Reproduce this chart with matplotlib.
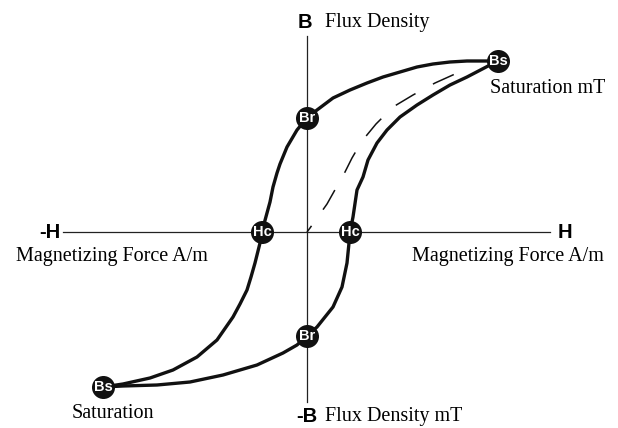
import matplotlib
matplotlib.use("Agg")
import matplotlib.pyplot as plt

# Descending branch (from +Bs through +Br, -Hc to -Bs)
upper_H = [191, 176, 160, 143, 126, 110, 93, 76, 60, 43, 26, 10, 0, -10, -20, -27, -30, -34, -37,
           -40, -43, -45, -47, -52, -56, -60, -67, -74, -90, -110, -134, -157, -184, -204]
upper_B = [171, 171, 171, 170, 168, 165, 160, 155, 149, 142, 134, 122, 114, 102, 85, 68, 59, 45, 30,
           19, 8, 0, -11, -31, -45, -58, -72, -85, -108, -125, -138, -146, -152, -155]

# Ascending branch (from -Bs through -Br, +Hc to +Bs)
lower_H = [-204, -184, -150, -117, -84, -50, -24, -10, 0, 10, 26, 35, 40, 42, 43, 46, 50, 56, 61,
           70, 80, 93, 110, 126, 143, 160, 183, 191]
lower_B = [-155, -154, -153, -150, -143, -133, -121, -113, -104, -95, -75, -55, -31, -11, 0, 15, 42, 55, 72,
           89, 102, 115, 127, 137, 147, 155, 167, 171]

# Initial magnetization curve (dashed)
init_H = [0, 3, 20, 38, 45, 55, 69, 86, 106, 128, 148, 153]
init_B = [0, 4, 28, 60, 74, 91, 108, 125, 137, 149, 158, 160]

# Marked points
pt_names = ["Bs", "Br", "Hc", "Hc", "Br", "Bs"]
pt_H = [191, 0, -45, 43, 0, -204]
pt_B = [171, 114, 0, 0, -104, -155]

SERIF = ["Liberation Serif", "DejaVu Serif"]
SANS = ["Liberation Sans", "DejaVu Sans"]

fig = plt.figure(figsize=(6.18, 4.28), dpi=100)
ax = fig.add_axes([0, 0, 1, 1])
ax.set_xlim(-307, 311)
ax.set_ylim(-196, 232)
ax.axis("off")

# axes lines
ax.plot([-244, 243], [0, 0], color="#222222", lw=0.9, zorder=1)
ax.plot([0, 0], [-170, 196], color="#222222", lw=0.9, zorder=1)

# loop
kw = dict(color="#111111", lw=2.4, solid_capstyle="round", solid_joinstyle="round", zorder=2)
ax.plot(upper_H, upper_B, **kw)
ax.plot(lower_H, lower_B, **kw)
ax.plot(init_H, init_B, color="#111111", lw=1.1, linestyle=(10, (15, 13)), zorder=2)

# markers
ax.scatter(pt_H, pt_B, s=275, color="#111111", zorder=3, linewidths=0)
for n, h, b in zip(pt_names, pt_H, pt_B):
    ax.text(h, b, n, color="white", fontsize=10.5, fontweight="bold", family=SANS,
            ha="center", va="center", zorder=4)

# labels
FS = 14.5
ax.text(5, 210, "B", fontsize=FS, fontweight="bold", family=SANS, ha="right", va="center")
ax.text(18, 210, "Flux Density", fontsize=FS, family=SERIF, ha="left", va="center")
ax.text(183, 144, "Saturation mT", fontsize=FS, family=SERIF, ha="left", va="center")
ax.text(-246, 0, "-H", fontsize=FS, fontweight="bold", family=SANS, ha="right", va="center")
ax.text(251, 0, "H", fontsize=FS, fontweight="bold", family=SANS, ha="left", va="center")
ax.text(-195, -25, "Magnetizing Force A/m", fontsize=FS, family=SERIF, ha="center", va="center")
ax.text(201, -25, "Magnetizing Force A/m", fontsize=FS, family=SERIF, ha="center", va="center")
ax.text(10, -185, "-B", fontsize=FS, fontweight="bold", family=SANS, ha="right", va="center")
ax.text(18, -185, "Flux Density mT", fontsize=FS, family=SERIF, ha="left", va="center")
ax.text(-235, -182, "Saturation", fontsize=FS, family=SERIF, ha="left", va="center")

fig.savefig("out.png", dpi=100)
